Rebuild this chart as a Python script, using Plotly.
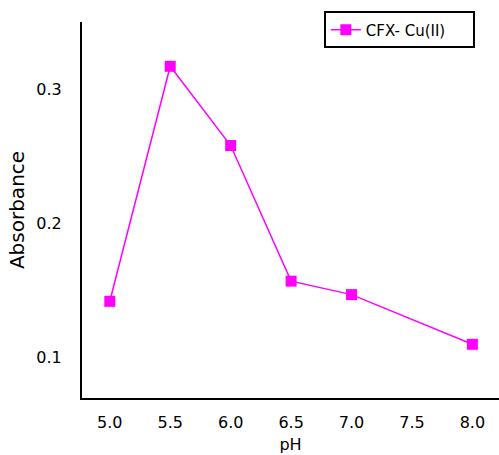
import plotly.graph_objects as go

ph = [5.0, 5.5, 6.0, 6.5, 7.0, 8.0]
absorbance = [0.142, 0.317, 0.258, 0.157, 0.147, 0.110]
series_name = "CFX- Cu(II)"
x_ticks = [5.0, 5.5, 6.0, 6.5, 7.0, 7.5, 8.0]
x_tick_labels = ["5.0", "5.5", "6.0", "6.5", "7.0", "7.5", "8.0"]
y_ticks = [0.1, 0.2, 0.3]
y_tick_labels = ["0.1", "0.2", "0.3"]

fam = "DejaVu Sans, Liberation Sans, Arial, sans-serif"
font = dict(family=fam, size=16, color="black")

fig = go.Figure()
fig.add_trace(go.Scatter(
    x=ph, y=absorbance, mode="lines+markers", name=series_name,
    line=dict(color="#ff00ff", width=1.5),
    marker=dict(symbol="square", size=11, color="#ff00ff"),
))

fig.update_layout(
    width=499, height=455,
    margin=dict(l=82, r=0, t=22, b=57, autoexpand=False),
    paper_bgcolor="white", plot_bgcolor="white",
    font=font,
    showlegend=True,
    legend=dict(
        orientation="h",
        x=0.58, y=1.028, xanchor="left", yanchor="top",
        bordercolor="black", borderwidth=2, bgcolor="white",
        font=dict(family=fam, size=15, color="black"),
        itemwidth=30, tracegroupgap=0,
        entrywidth=102, entrywidthmode="pixels",
    ),
    xaxis=dict(
        range=[4.77, 8.22], tickvals=x_ticks, ticktext=x_tick_labels,
        showline=True, linecolor="black", linewidth=2, mirror=False,
        showgrid=False, zeroline=False, ticks="",
        ticklabelstandoff=9,
        title=dict(text="pH", standoff=8, font=font),
    ),
    yaxis=dict(
        range=[0.070, 0.350], tickvals=y_ticks, ticktext=y_tick_labels,
        showline=True, linecolor="black", linewidth=2, mirror=False,
        showgrid=False, zeroline=False, ticks="",
        ticklabelstandoff=15,
        title=dict(text="Absorbance", standoff=6,
                   font=dict(family=fam, size=20, color="black")),
    ),
)

fig.write_html("out.html")
